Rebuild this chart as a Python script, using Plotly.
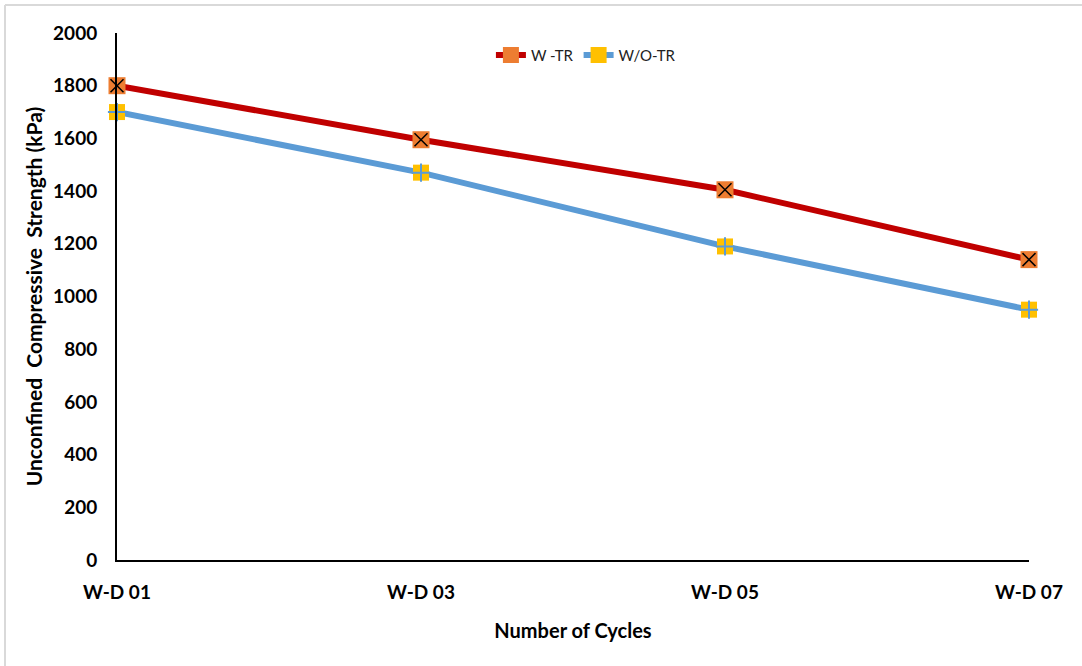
import plotly.graph_objects as go

# Wet-dry cycle data
cycles = ["W-D 01", "W-D 03", "W-D 05", "W-D 07"]
ucs_with_tr = [1800, 1595, 1405, 1140]
ucs_without_tr = [1700, 1470, 1190, 950]
y_ticks = [0, 200, 400, 600, 800, 1000, 1200, 1400, 1600, 1800, 2000]

FONT = "Lato"
x_idx = list(range(len(cycles)))

fig = go.Figure()

# Lines with base square markers (legend entries)
fig.add_trace(go.Scatter(
    x=x_idx, y=ucs_with_tr, name="W -TR", mode="lines+markers", cliponaxis=False,
    line=dict(color="#C00000", width=6),
    marker=dict(symbol="square", size=17, color="#ED7D31", line=dict(width=0)),
))
fig.add_trace(go.Scatter(
    x=x_idx, y=ucs_without_tr, name="W/O-TR", mode="lines+markers", cliponaxis=False,
    line=dict(color="#5B9BD5", width=6),
    marker=dict(symbol="square", size=16, color="#FFC000", line=dict(width=0)),
))

# Glyphs drawn on top of the squares
fig.add_trace(go.Scatter(
    x=x_idx, y=ucs_with_tr, mode="markers", showlegend=False, hoverinfo="skip", cliponaxis=False,
    marker=dict(symbol="x-thin", size=13, color="black", line=dict(color="black", width=1.5)),
))
fig.add_trace(go.Scatter(
    x=x_idx, y=ucs_without_tr, mode="markers", showlegend=False, hoverinfo="skip", cliponaxis=False,
    marker=dict(symbol="cross-thin", size=13, color="#5B9BD5", line=dict(color="#5B9BD5", width=2)),
))

# Light frame on top and left edges of the page
plot_w, plot_h = 912, 527
x_left = (5 - 117) / plot_w
x_right = (1082 - 117) / plot_w
y_top = (560 - 5) / plot_h
y_bot = (560 - 666) / plot_h
fig.add_shape(type="line", xref="paper", yref="paper", x0=x_left, x1=x_right, y0=y_top, y1=y_top,
              line=dict(color="#D9D9D9", width=2))
fig.add_shape(type="line", xref="paper", yref="paper", x0=x_left, x1=x_left, y0=y_top, y1=y_bot,
              line=dict(color="#D9D9D9", width=2))

fig.update_layout(
    width=1082, height=666,
    margin=dict(l=117, r=53, t=33, b=106),
    paper_bgcolor="white", plot_bgcolor="white",
    font=dict(family=FONT, color="black"),
    showlegend=True,
    legend=dict(orientation="h", x=0.41, y=0.958, xanchor="left", yanchor="middle",
                font=dict(family=FONT, size=15, color="#222"), bgcolor="rgba(0,0,0,0)",
                tracegroupgap=0),
    xaxis=dict(
        range=[0, 3], tickvals=x_idx, ticktext=cycles,
        showgrid=False, zeroline=False, showline=True, linecolor="black", linewidth=2,
        ticks="", ticklabelstandoff=14,
        tickfont=dict(family=FONT, size=19, color="black", weight="bold"),
        title=dict(text="<b>Number of Cycles</b>", font=dict(family=FONT, size=20, color="black"), standoff=22),
    ),
    yaxis=dict(
        range=[0, 2000], tickvals=y_ticks,
        showgrid=False, zeroline=False, showline=True, linecolor="black", linewidth=2,
        ticks="", ticklabelstandoff=14,
        tickfont=dict(family=FONT, size=19, color="black", weight="bold"),
        title=dict(text="<b>Unconfined  Compressive  Strength (kPa)</b>",
                   font=dict(family=FONT, size=21, color="black"), standoff=5),
    ),
)

fig.write_html("out.html")
